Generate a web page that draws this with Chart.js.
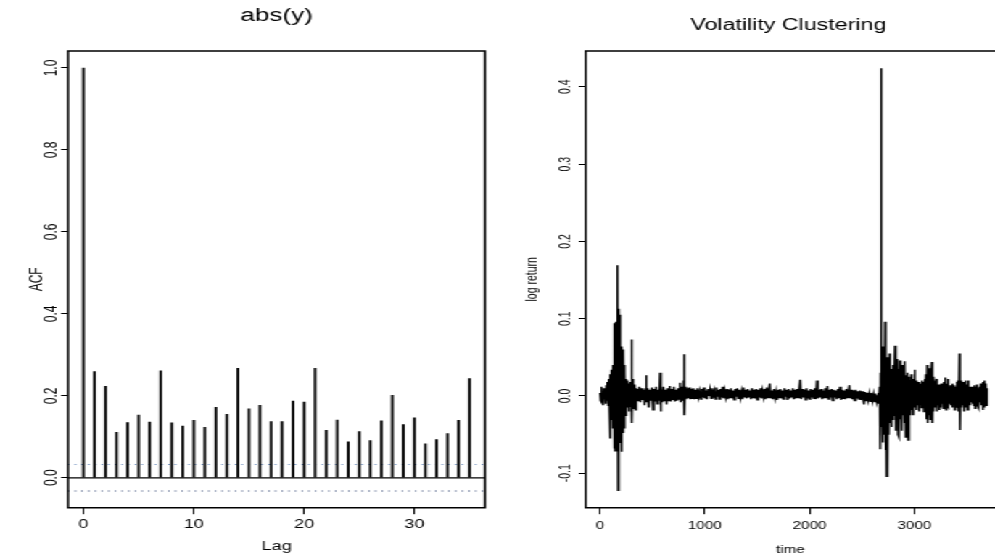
<!DOCTYPE html>
<html>
<head>
<meta charset="utf-8">
<script src="https://cdn.jsdelivr.net/npm/chart.js@4.4.1/dist/chart.umd.min.js"></script>
<style>
html,body{margin:0;padding:0;background:#fff;overflow:hidden;width:995px;height:556px;}
#wrap{position:absolute;left:0;top:0;width:686px;height:556px;transform:scaleX(1.45044);transform-origin:0 0;}
canvas{position:absolute;top:0;}
#acfCanvas{left:0;}
#tsCanvas{left:343px;}
</style>
</head>
<body>
<div id="wrap">
<canvas id="acfCanvas" width="343" height="556" style="width:343px;height:556px"></canvas>
<canvas id="tsCanvas" width="343" height="556" style="width:343px;height:556px"></canvas>
</div>
<script>
// ---------- Left panel: ACF of abs(y) ----------
const acfTitle = 'abs(y)';
const lags = [0,1,2,3,4,5,6,7,8,9,10,11,12,13,14,15,16,17,18,19,20,21,22,23,24,25,26,27,28,29,30,31,32,33,34,35];
const acfValues = [1.000,0.259,0.223,0.111,0.135,0.153,0.136,0.261,0.134,0.126,
                   0.140,0.123,0.172,0.155,0.267,0.168,0.177,0.137,0.137,0.187,
                   0.185,0.267,0.116,0.141,0.088,0.113,0.091,0.139,0.201,0.130,
                   0.146,0.083,0.093,0.108,0.140,0.242];
const acfBound = 0.0323;
const lagRange = [-1.4, 36.4];
const acfRange = [-0.073, 1.0414];
const lagTicks = [0,10,20,30];
const acfTicks = [0,0.2,0.4,0.6,0.8,1.0];

// ---------- Right panel: Volatility Clustering ----------
const tsTitle = 'Volatility Clustering';
const time = [
  0,6,12,18,24,30,36,42,48,54,
  60,66,72,78,84,90,
  95,99,103,107,111,115,119,123,127,131,
  135,139,143,147,151,155,159,163,167,169,
  172,175,179,183,187,191,195,199,203,207,
  211,215,219,223,227,231,235,239,243,247,
  251,255,259,263,
  267,271,275,279,283,287,291,295,299,303,
  307,311,315,319,323,327,331,335,339,343,
  347,
  355,365,375,385,395,405,415,425,435,440,
  445,455,465,475,485,495,505,515,525,535,
  545,555,565,573,578,585,595,605,615,625,
  635,645,655,665,675,685,695,705,715,725,
  735,745,755,763,770,780,790,797,802,806,
  812,820,830,840,850,860,870,880,890,900,
  910,920,930,940,950,960,970,980,990,1000,
  1010,1020,1030,1040,1050,1060,1070,1080,1090,1100,
  1110,1120,1130,1140,1150,1160,1170,1180,1190,1200,
  1210,1220,1230,1240,1250,1260,1270,1280,1290,1300,
  1310,1320,1330,1340,1350,1360,1370,1380,1390,1400,
  1410,1420,1430,1440,1450,1460,1470,1480,1490,1500,
  1510,1520,1530,1540,1550,1560,1570,1580,1590,1600,
  1610,1620,1630,1640,1650,1660,1670,1680,1690,1700,
  1710,1720,1730,1740,1750,1760,1770,1780,1790,1800,
  1810,1820,1830,1840,1850,1860,1870,1880,1890,1900,
  1910,1920,1930,1940,1950,1960,1970,1980,1990,2000,
  2010,2020,2030,2040,2050,2060,2070,2080,2090,2100,
  2110,2120,2130,2140,2150,2160,2170,2180,2190,2200,
  2210,2220,2230,2240,2250,2260,2270,2280,2290,2300,
  2310,2320,2330,2340,2350,2360,2370,2380,2390,2400,
  2410,2420,2430,2440,2450,2460,2470,2480,2490,2500,
  2510,2520,2530,2540,2550,2560,2570,2580,2590,2600,
  2610,2620,2630,2640,2650,
  2655,2662,2668,2674,2679,2683,2687,2692,2697,2702,
  2707,2712,2716,2720,2725,2730,2735,2740,2745,2750,
  2756,2762,2768,2774,2780,2786,2792,2798,2804,2810,
  2815,2820,2826,2832,2838,2844,2850,2856,2862,2868,
  2874,2880,2886,2892,2898,2904,2910,2916,2922,2928,
  2934,2940,2946,2952,2958,2964,2970,2976,2982,2990,
  2996,3002,3008,3014,3020,3026,3032,3038,3044,3050,
  3056,3062,3068,3074,3080,3086,3092,3098,3104,3110,
  3116,3122,3128,3134,3140,3146,3152,3158,3166,3172,
  3178,3184,3190,3196,3202,3210,3216,3222,3228,3234,
  3240,3246,3252,3258,3264,3270,3276,3282,3290,3296,
  3302,3308,3314,3320,3326,3332,3338,3344,3350,3356,
  3362,3368,3374,3380,3386,3392,3398,3404,3410,3416,
  3422,3430,3436,3442,3448,3454,3460,3466,3472,3478,
  3484,3490,3496,3502,3508,3514,3520,3526,3532,3538,
  3544,3550,3556,3562,3568,3574,3580,3586,3592,3598,
  3604,3610,3616,3622,3628,3634,3640,3646,3652,3658,
  3664,3670,3676,3682,3688,3694
];
const logReturn = [
  0.004,-0.006,0.012,-0.008,0.006,-0.012,0.010,-0.004,0.008,-0.010,
  0.014,-0.006,0.018,-0.012,0.022,-0.020,
  -0.055,0.028,-0.030,0.034,-0.028,0.030,-0.036,0.040,-0.042,0.038,
  -0.068,0.094,-0.071,0.096,-0.060,0.080,-0.070,0.110,-0.065,0.169,
  -0.122,0.090,-0.074,0.113,-0.060,0.105,-0.050,0.062,-0.072,0.064,
  -0.050,0.060,-0.048,0.056,-0.035,0.040,-0.042,0.030,-0.025,0.022,
  -0.018,0.020,-0.015,0.012,
  -0.012,0.016,-0.020,0.012,-0.010,0.018,-0.014,0.010,-0.008,0.073,
  -0.035,0.022,-0.012,0.014,-0.016,0.012,-0.010,0.015,-0.018,0.010,
  -0.008,
  0.009,-0.006,0.012,-0.008,0.010,-0.005,0.008,-0.012,0.010,0.027,
  -0.008,0.010,-0.015,0.008,-0.006,0.011,-0.018,0.009,-0.007,0.012,
  -0.010,0.008,-0.006,0.030,-0.020,0.010,-0.008,0.012,-0.006,0.008,
  -0.011,0.010,-0.006,0.013,-0.007,0.009,-0.005,0.012,-0.007,0.008,
  -0.006,0.010,-0.004,0.017,-0.008,0.012,-0.006,0.020,0.054,-0.025,
  0.012,-0.004,0.010,-0.003,0.011,-0.004,0.009,-0.003,0.010,-0.004,
  0.008,-0.003,0.010,-0.001,0.006,-0.004,0.009,-0.002,0.011,-0.003,
  0.007,-0.004,0.009,0.000,0.008,-0.003,0.010,-0.002,0.006,-0.004,
  0.011,-0.001,0.008,-0.004,0.009,-0.002,0.012,-0.003,0.007,-0.001,
  0.009,-0.004,0.008,-0.002,0.010,-0.003,0.007,-0.005,0.009,-0.001,
  0.010,-0.003,0.008,-0.002,0.006,-0.004,0.011,-0.002,0.008,-0.003,
  0.009,-0.001,0.007,-0.004,0.010,-0.002,0.008,-0.003,0.009,-0.005,
  0.008,-0.002,0.010,-0.003,0.007,-0.001,0.009,-0.004,0.011,-0.002,
  0.008,0.016,-0.003,0.007,-0.004,0.009,-0.002,0.006,-0.005,0.008,
  -0.002,0.009,-0.003,0.007,-0.004,0.010,-0.001,0.008,-0.005,0.009,
  -0.003,0.007,-0.002,0.010,-0.004,0.008,-0.003,0.009,-0.002,0.008,
  0.021,-0.004,0.009,-0.002,0.008,-0.005,0.010,-0.003,0.007,-0.004,
  0.009,-0.002,0.008,-0.003,0.010,-0.004,0.020,-0.003,0.008,-0.002,
  0.009,-0.004,0.007,-0.002,0.010,-0.003,0.013,-0.004,0.008,-0.002,
  0.009,-0.006,0.008,-0.002,0.007,-0.004,0.009,-0.003,0.012,-0.005,
  0.008,-0.003,0.007,-0.004,0.009,-0.002,0.007,0.014,-0.003,0.008,
  -0.004,0.007,-0.006,0.008,-0.003,0.006,-0.004,0.007,-0.005,0.006,
  -0.004,-0.011,0.005,-0.006,0.004,-0.005,0.003,-0.007,0.004,-0.006,
  0.002,-0.008,0.003,-0.007,0.001,
  0.004,-0.010,0.012,-0.069,0.030,0.424,-0.040,0.064,-0.060,0.050,
  -0.045,0.060,-0.050,0.096,-0.070,0.045,-0.104,0.050,-0.100,0.040,
  -0.050,0.055,-0.035,0.030,-0.040,0.035,-0.030,0.040,-0.025,0.030,
  0.065,-0.045,0.045,-0.030,0.048,-0.050,0.035,-0.053,0.046,-0.030,
  0.040,-0.045,0.030,-0.025,0.040,-0.035,0.045,-0.053,0.027,-0.040,
  0.030,-0.057,0.025,-0.020,0.020,-0.025,0.028,-0.018,0.022,-0.025,
  0.018,0.034,-0.015,0.020,-0.018,0.015,-0.012,0.018,-0.020,0.014,
  -0.010,0.016,-0.015,0.020,-0.012,0.018,-0.020,0.022,-0.015,0.028,
  -0.030,0.040,-0.035,0.036,-0.025,0.020,-0.030,0.030,0.044,-0.035,
  0.025,-0.020,0.018,-0.015,0.016,0.022,-0.020,0.014,-0.012,0.015,
  -0.018,0.012,-0.015,0.016,-0.010,0.014,-0.016,0.018,-0.012,0.024,
  -0.018,0.016,-0.012,0.022,-0.014,0.012,-0.010,0.014,-0.012,0.012,
  -0.015,0.016,-0.010,0.014,-0.018,0.012,-0.010,0.018,-0.015,0.020,
  -0.020,0.055,-0.044,0.020,-0.015,0.012,-0.012,0.018,-0.020,0.016,
  -0.014,0.020,-0.012,0.015,-0.018,0.020,-0.010,0.012,-0.012,0.010,
  -0.008,0.012,-0.010,0.008,-0.012,0.014,-0.016,0.012,-0.010,0.015,
  -0.012,0.010,-0.015,0.012,-0.008,0.016,-0.012,0.014,-0.018,0.018,
  -0.014,0.020,-0.010,0.016,-0.012,0.010
];
const timeRange = [-137, 3770];
const returnRange = [-0.1445, 0.4463];
const timeTicks = [0,1000,2000,3000];
const returnTicks = [-0.1,0,0.1,0.2,0.3,0.4];

if (time.length !== logReturn.length) console.error('length mismatch', time.length, logReturn.length);

const FONT = "'Liberation Sans', Arial, Helvetica, sans-serif";
Chart.defaults.font.family = FONT;
Chart.defaults.color = '#000';

const framePlugin = {
  id: 'frame',
  afterDraw(chart, args, o) {
    const {ctx, chartArea: a} = chart;
    ctx.save();
    ctx.strokeStyle = '#000';
    ctx.lineWidth = 1.5;
    ctx.beginPath();
    if (o.openRight) {
      ctx.moveTo(chart.width + 3, a.top);
      ctx.lineTo(a.left, a.top);
      ctx.lineTo(a.left, a.bottom);
      ctx.lineTo(chart.width + 3, a.bottom);
    } else {
      ctx.rect(a.left, a.top, a.right - a.left, a.bottom - a.top);
    }
    ctx.stroke();
    ctx.fillStyle = '#000';
    ctx.font = o.size + 'px ' + FONT;
    ctx.textAlign = 'center';
    ctx.textBaseline = 'alphabetic';
    ctx.fillText(o.text, o.x != null ? o.x : (a.left + a.right) / 2, o.baseline);
    ctx.restore();
  }
};

function tickGrid(len) {
  return {display: true, drawOnChartArea: false, drawTicks: true, tickLength: len, color: '#000', lineWidth: 1, offset: false};
}

new Chart(document.getElementById('acfCanvas'), {
  type: 'bar',
  data: {
    datasets: [
      {type: 'line', label: 'zero', data: [{x: lagRange[0], y: 0}, {x: lagRange[1], y: 0}],
       borderColor: '#000', borderWidth: 1.2, pointRadius: 0, order: 1},
      {type: 'line', label: 'upper', data: [{x: lagRange[0], y: acfBound}, {x: lagRange[1], y: acfBound}],
       borderColor: '#5a7fb5', borderWidth: 1.1, borderDash: [1, 3.6], pointRadius: 0, order: 2},
      {type: 'line', label: 'lower', data: [{x: lagRange[0], y: -acfBound}, {x: lagRange[1], y: -acfBound}],
       borderColor: '#2b3f6e', borderWidth: 1.1, borderDash: [1, 3.6], pointRadius: 0, order: 3},
      {type: 'bar', label: 'ACF', data: lags.map((l, i) => ({x: l, y: acfValues[i]})),
       backgroundColor: '#000', borderWidth: 0, barThickness: 1.2, order: 0}
    ]
  },
  options: {
    responsive: false, animation: false, devicePixelRatio: 1,
    layout: {padding: {left: 0, right: 8.6, top: 51, bottom: 0}},
    plugins: {legend: {display: false}, tooltip: {enabled: false},
      frame: {text: acfTitle, size: 18, baseline: 21.4, openRight: false}},
    scales: {
      x: {type: 'linear', min: lagRange[0], max: lagRange[1], offset: false,
        afterBuildTicks: s => { s.ticks = lagTicks.map(v => ({value: v})); },
        afterFit: s => { s.height = 48.3; },
        grid: tickGrid(6.5), border: {display: false},
        ticks: {color: '#000', font: {size: 12.5}, padding: 3, maxRotation: 0, autoSkip: false,
          callback: v => String(v)},
        title: {display: true, text: 'Lag', color: '#000', font: {size: 12.5}, padding: {top: 0, bottom: 1.5}}
      },
      y: {type: 'linear', min: acfRange[0], max: acfRange[1],
        afterBuildTicks: s => { s.ticks = acfTicks.map(v => ({value: v})); },
        afterFit: s => { s.width = 46.9; },
        grid: tickGrid(4.8), border: {display: false},
        ticks: {color: '#000', font: {size: 12}, padding: -1.9, minRotation: 90, maxRotation: 90,
          crossAlign: 'center', autoSkip: false, callback: v => Number(v).toFixed(1)},
        title: {display: true, text: 'ACF', color: '#000', font: {size: 12}, padding: {top: 18.7, bottom: 0}}
      }
    }
  },
  plugins: [framePlugin]
});

new Chart(document.getElementById('tsCanvas'), {
  type: 'line',
  data: {
    datasets: [{
      label: 'log return',
      data: time.map((t, i) => ({x: t, y: logReturn[i]})),
      borderColor: '#000', borderWidth: 1.4, pointRadius: 0, tension: 0, fill: false
    }]
  },
  options: {
    responsive: false, animation: false, devicePixelRatio: 1,
    layout: {padding: {left: 0, right: 0, top: 51, bottom: 0}},
    plugins: {legend: {display: false}, tooltip: {enabled: false},
      frame: {text: tsTitle, size: 16, baseline: 29.8, x: 200.5, openRight: true}},
    scales: {
      x: {type: 'linear', min: timeRange[0], max: timeRange[1], offset: false,
        afterBuildTicks: s => { s.ticks = timeTicks.map(v => ({value: v})); },
        afterFit: s => { s.height = 48.3; },
        grid: tickGrid(6.5), border: {display: false},
        ticks: {color: '#000', font: {size: 10.5}, padding: 5.5, maxRotation: 0, autoSkip: false,
          callback: v => String(v)},
        title: {display: true, text: 'time', color: '#000', font: {size: 10.5}, padding: {top: 0, bottom: 0}}
      },
      y: {type: 'linear', min: returnRange[0], max: returnRange[1],
        afterBuildTicks: s => { s.ticks = returnTicks.map(v => ({value: v})); },
        afterFit: s => { s.width = 60.8; },
        grid: tickGrid(4.8), border: {display: false},
        ticks: {color: '#000', font: {size: 10.5}, padding: 0.25, minRotation: 90, maxRotation: 90,
          crossAlign: 'center', autoSkip: false, callback: v => Number(v).toFixed(1)},
        title: {display: true, text: 'log return', color: '#000', font: {size: 10.5}, padding: {top: 18.2, bottom: 0}}
      }
    }
  },
  plugins: [framePlugin]
});
</script>
</body>
</html>
